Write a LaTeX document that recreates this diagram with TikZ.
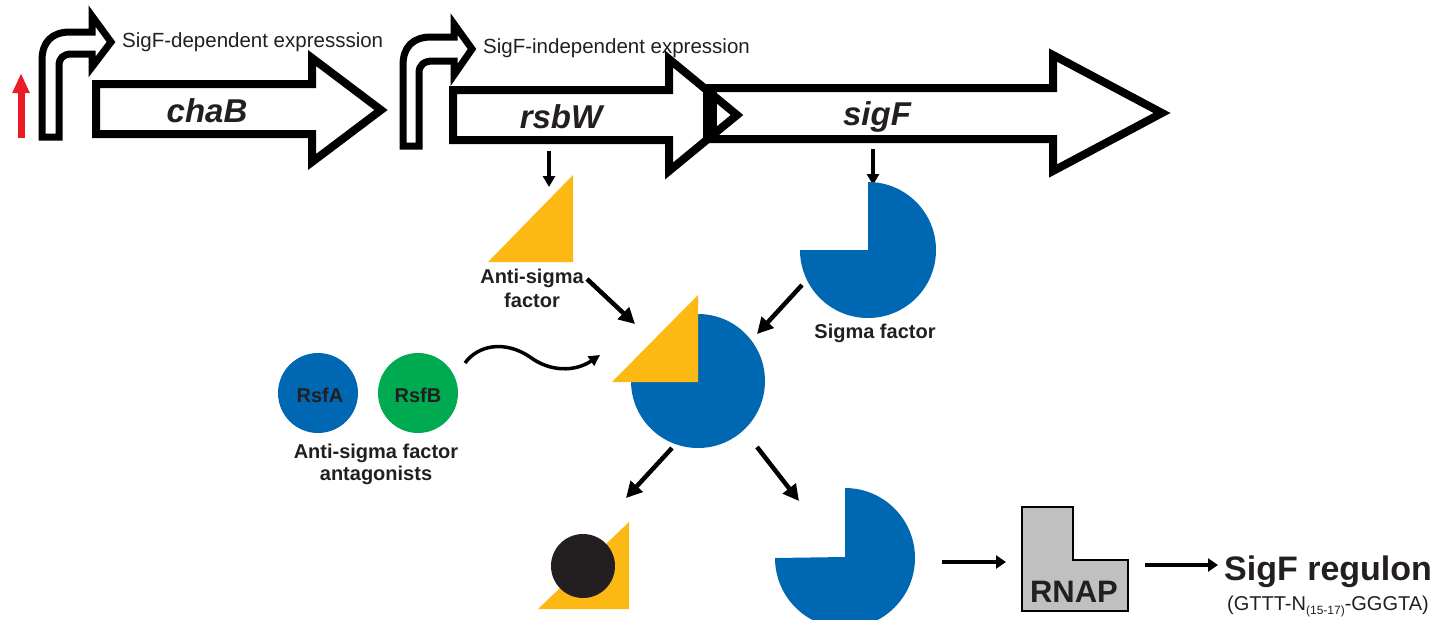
\documentclass[tikz,border=0pt]{standalone}
\usepackage{fontspec}
\setmainfont{Liberation Sans}
\usetikzlibrary{arrows.meta}
\definecolor{myyellow}{RGB}{253,185,19}
\definecolor{myblue}{RGB}{0,103,178}
\definecolor{mygreen}{RGB}{0,170,80}
\definecolor{myred}{RGB}{237,28,36}
\definecolor{mygray}{RGB}{192,192,192}
\definecolor{txt}{RGB}{35,31,32}
\begin{document}
\begin{tikzpicture}[x=1pt,y=-1pt,
  gene/.style={draw=black,fill=white,line width=8pt,line join=miter},
  prom/.style={draw=black,fill=white,line width=7pt,line join=miter},
  conn/.style={line width=4.5pt,-{Triangle[length=16pt,width=16pt]}},
  smallarr/.style={line width=3.5pt,-{Triangle[length=11pt,width=12pt]}},
  harr/.style={line width=4.5pt,-{Triangle[length=10pt,width=13pt]}},
  lbl/.style={text=txt,font=\bfseries\fontsize{20}{24}\selectfont,inner sep=0pt,anchor=base},
  genelbl/.style={text=txt,font=\bfseries\itshape\fontsize{33}{36}\selectfont,inner sep=0pt,anchor=base},
  plain/.style={text=txt,font=\fontsize{20.5}{24}\selectfont,inner sep=0pt,anchor=base west},
  pac/.style={fill=myblue}]
\useasboundingbox (0,0) rectangle (1451,619);
\clip (0,0) rectangle (1451,619);

% red arrow
\coordinate (redbot) at (21,138);
\coordinate (redtop) at (21,73);
\draw[line width=7pt,myred,-{Triangle[length=20pt,width=16pt]}] (redbot) -- (redtop);

% promoter 1
\draw[prom] (42,137) -- (42,60) .. controls (42,42) and (52,32) .. (70,32) -- (92,32) -- (92,16)
  -- (111,42) -- (92,67) -- (92,54) -- (72,54) .. controls (63,54) and (59,58) .. (59,66) -- (59,137) -- cycle;
\node[plain] (dep) at (122,47) {SigF-dependent expresssion};

% promoter 2
\draw[prom] (403,146) -- (403,65) .. controls (403,47) and (413,37) .. (431,37) -- (454,37) -- (454,24)
  -- (472,49) -- (454,75) -- (454,61) -- (433,61) .. controls (424,61) and (419,65) .. (419,73) -- (419,146) -- cycle;
\node[plain] (indep) at (483,53) {SigF-independent expression};

% genes
\draw[gene] (96,84) -- (312,84) -- (312,58) -- (381,110) -- (312,162) -- (312,134) -- (96,134) -- cycle;
\node[genelbl] (chaB) at (207,122) {chaB};
\draw[gene] (710,88) -- (1053,88) -- (1053,55) -- (1162,113) -- (1053,171) -- (1053,139) -- (710,139) -- cycle;
\draw[gene] (453,90) -- (669,90) -- (669,59) -- (737,115) -- (669,171) -- (669,140) -- (453,140) -- cycle;
\draw[line width=14pt] (710,84) -- (710,143);
\node[genelbl] (rsbW) at (561,128) {rsbW};
\node[genelbl] (sigF) at (877,125) {sigF};

% expression arrows
\coordinate (rsbWout) at (549,151);
\coordinate (asfin) at (549,187);
\draw[smallarr] (rsbWout) -- (asfin);
\coordinate (sigFout) at (873,149);
\coordinate (sfin) at (873,185);
\draw[smallarr] (sigFout) -- (sfin);

% anti-sigma factor
\fill[myyellow] (488,262) -- (573,262) -- (573,175) -- cycle;
\node[lbl] (asf1) at (532,283) {Anti-sigma};
\node[lbl] (asf2) at (532,307) {factor};

% sigma factor
\fill[pac] (868,250) -- ++(0,-68) arc[start angle=-90,end angle=180,radius=68] -- cycle;
\node[lbl] (sf) at (875,338) {Sigma factor};

% complex
\fill[pac] (698,381) -- ++(0,-67) arc[start angle=-90,end angle=180,radius=67] -- cycle;
\fill[myyellow] (612,382) -- (698,382) -- (698,295) -- cycle;

\coordinate (asfout) at (587,279);
\coordinate (cxin1) at (635,324);
\draw[conn] (asfout) -- (cxin1);
\coordinate (sfout) at (802,285);
\coordinate (cxin2) at (757,334);
\draw[conn] (sfout) -- (cxin2);

% antagonists
\fill[myblue] (318,393) circle[radius=40];
\fill[mygreen] (418,393) circle[radius=40];
\node[lbl] (rsfA) at (320,402) {RsfA};
\node[lbl] (rsfB) at (418,402) {RsfB};
\node[lbl] (ant1) at (376,458) {Anti-sigma factor};
\node[lbl] (ant2) at (376,480) {antagonists};
\coordinate (wavs) at (465,363);
\coordinate (wave) at (600,355);
\draw[line width=3.5pt,-{Triangle[length=11pt,width=11pt]}] (wavs) .. controls (478,345) and (505,340) .. (530,357)
  .. controls (550,372) and (575,372) .. (wave);

% products
\coordinate (cxout1) at (672,448);
\coordinate (bin) at (626,498);
\draw[conn] (cxout1) -- (bin);
\coordinate (cxout2) at (757,447);
\coordinate (sin) at (799,501);
\draw[conn] (cxout2) -- (sin);

\fill[myyellow] (538,609) -- (629,609) -- (629,522) -- cycle;
\fill[txt] (583,566) circle[radius=32];

\fill[pac] (845,557) -- ++(0,-69) arc[start angle=-90,end angle=180,radius=70] -- cycle;

% RNAP
\coordinate (sout) at (942,562);
\coordinate (rnapin) at (1006,562);
\draw[harr] (sout) -- (rnapin);
\draw[fill=mygray,line width=2pt] (1022,507) -- (1073,507) -- (1073,560) -- (1128,560) -- (1128,611) -- (1022,611) -- cycle;
\node[text=txt,font=\bfseries\fontsize{31}{34}\selectfont,inner sep=0pt,anchor=base] (rnap) at (1074,602) {RNAP};
\coordinate (rnapout) at (1145,565);
\coordinate (regin) at (1218,565);
\draw[harr] (rnapout) -- (regin);
\node[text=txt,font=\bfseries\fontsize{34}{38}\selectfont,inner sep=0pt,anchor=base west] (reg) at (1224,580) {SigF regulon};
\node[text=txt,font=\fontsize{20}{24}\selectfont,inner sep=0pt,anchor=base west] (seq) at (1227,610) {(GTTT-N\raisebox{-4pt}{\fontsize{12}{14}\selectfont(15-17)}-GGGTA)};
\end{tikzpicture}
\end{document}
